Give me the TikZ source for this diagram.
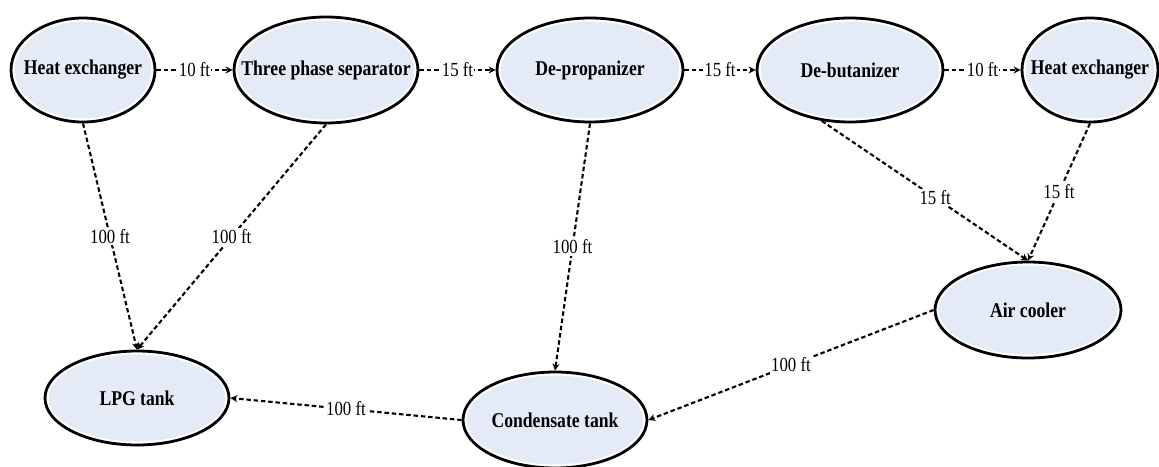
\documentclass[tikz,border=0pt]{standalone}
\usepackage{fontspec}
\setmainfont{Liberation Serif}
\usetikzlibrary{shapes.geometric,arrows.meta}
\definecolor{nodefill}{HTML}{E4EBF6}
\tikzset{
  vessel/.style={ellipse, fill=nodefill, draw=black, line width=2.8pt, inner sep=0pt,
    postaction={draw=white, line width=7pt},
    postaction={draw=black, line width=2.8pt}},
  vtext/.style={font=\fontsize{21}{23}\selectfont\bfseries, inner sep=0pt, xscale=0.84},
  flow/.style={line width=2.1pt, dash pattern=on 4.5pt off 2.8pt,
    -{Stealth[length=7pt,width=7pt]}},
  dist/.style={fill=white, inner sep=1.5pt, font=\fontsize{20}{22}\selectfont, xscale=0.84}
}
\begin{document}
\begin{tikzpicture}[x=1pt,y=1pt]
\useasboundingbox (0,0) rectangle (1159,-466);
\node[vessel, minimum width=144, minimum height=104, label={[vtext]center:Heat exchanger}] (he1) at (83,-70) {};
\node[vessel, minimum width=184, minimum height=106, label={[vtext]center:Three phase separator}] (tps) at (326,-70) {};
\node[vessel, minimum width=186, minimum height=104, label={[vtext]center:De-propanizer}] (dep) at (590,-70) {};
\node[vessel, minimum width=186, minimum height=104, label={[vtext]center:De-butanizer}] (deb) at (850,-70) {};
\node[vessel, minimum width=136, minimum height=104, label={[vtext]center:Heat exchanger}] (he2) at (1090,-70) {};
\node[vessel, minimum width=186, minimum height=96, label={[vtext]center:Air cooler}] (air) at (1028,-310) {};
\node[vessel, minimum width=184, minimum height=94, label={[vtext]center:LPG tank}] (lpg) at (137,-398) {};
\node[vessel, minimum width=184, minimum height=96, label={[vtext]center:Condensate tank}] (cond) at (555,-420) {};

\draw[flow] (he1) -- node[dist]{10 ft} (tps);
\draw[flow] (tps) -- node[dist]{15 ft} (dep);
\draw[flow] (dep) -- node[dist]{15 ft} (deb);
\draw[flow] (deb) -- node[dist]{10 ft} (he2);
\draw[flow] (he1.south) -- node[dist]{100 ft} (lpg.north);
\draw[flow] (tps.south) -- node[dist]{100 ft} (lpg.north);
\draw[flow] (dep.south) -- node[dist]{100 ft} (cond.north);
\draw[flow] (deb.241) -- node[dist, pos=0.55]{15 ft} (air.north);
\draw[flow] (he2.south) -- node[dist]{15 ft} (air.north);
\draw[flow] (air.west) -- node[dist]{100 ft} (cond.east);
\draw[flow] (cond.west) -- node[dist]{100 ft} (lpg.east);
\end{tikzpicture}
\end{document}
